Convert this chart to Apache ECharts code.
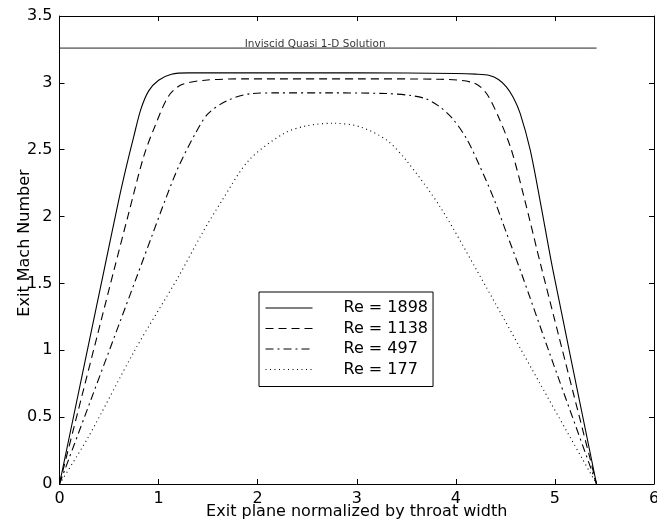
<!DOCTYPE html>
<html><head><meta charset="utf-8">
<script src="https://cdn.jsdelivr.net/npm/echarts@6/dist/echarts.min.js"></script>
<style>html,body{margin:0;padding:0;background:#fff}#c{width:657px;height:527px}</style>
</head><body><div id="c"></div>
<script>
// ---- data ----
var xTicks = [0, 1, 2, 3, 4, 5, 6];
var yTicks = [0, 0.5, 1, 1.5, 2, 2.5, 3, 3.5];

var re1898X = [0, 0.45, 0.60, 0.68, 0.75, 0.82, 0.90, 1.0, 1.13, 1.3, 2.0, 3.0, 4.0, 4.2, 4.34, 4.43, 4.51, 4.58, 4.65, 4.75, 4.85, 4.98, 5.42];
var re1898Y = [0, 1.60, 2.13, 2.39, 2.60, 2.80, 2.94, 3.02, 3.065, 3.075, 3.075, 3.075, 3.07, 3.065, 3.055, 3.025, 2.97, 2.89, 2.77, 2.50, 2.12, 1.60, 0];

var re1138X = [0, 0.55, 0.70, 0.85, 0.96, 1.10, 1.23, 1.47, 1.9, 3.0, 3.84, 4.18, 4.31, 4.445, 4.56, 4.68, 4.87, 5.42];
var re1138Y = [0, 1.60, 2.03, 2.45, 2.67, 2.90, 2.985, 3.02, 3.03, 3.03, 3.027, 3.0, 2.92, 2.72, 2.50, 2.17, 1.60, 0];

var re497X = [0, 0.78, 0.93, 1.065, 1.20, 1.37, 1.50, 1.70, 1.94, 2.2, 2.72, 3.3, 3.55, 3.70, 3.84, 3.97, 4.11, 4.24, 4.38, 4.51, 4.65, 4.95, 5.42];
var re497Y = [0, 1.55, 1.85, 2.12, 2.37, 2.62, 2.77, 2.87, 2.92, 2.925, 2.925, 2.92, 2.905, 2.88, 2.82, 2.73, 2.58, 2.38, 2.14, 1.88, 1.60, 0.97, 0];

var re177X = [0, 0.29, 0.76, 1.2, 1.44, 1.64, 1.91, 2.26, 2.49, 2.76, 3.03, 3.30, 3.50, 3.84, 4.21, 4.85, 5.42];
var re177Y = [0, 0.35, 1.0, 1.55, 1.875, 2.12, 2.42, 2.62, 2.678, 2.698, 2.672, 2.573, 2.42, 2.074, 1.60, 0.75, 0];

var invX = [0, 5.42];
var invY = [3.26, 3.26];
var invLabelX = 2.58;
var invLabel = 'Inviscid Quasi 1-D Solution';

var seriesNames = ['Re = 1898', 'Re = 1138', 'Re = 497', 'Re = 177'];
var xName = 'Exit plane normalized by throat width';
var yName = 'Exit Mach Number';

function pairs(xs, ys) { return xs.map(function (x, i) { return [x, ys[i]]; }); }

var FONT = '"DejaVu Sans", Verdana, sans-serif';
var FS = 16;
var chart = echarts.init(document.getElementById('c'));

function axisCommon(extra) {
  var base = {
    type: 'value',
    axisLine: { show: true, onZero: false, lineStyle: { color: '#000', width: 1 } },
    axisTick: { show: true, inside: true, length: 5, lineStyle: { color: '#000', width: 1 } },
    splitLine: { show: false },
    axisLabel: { color: '#000', fontSize: FS, fontFamily: FONT }
  };
  for (var k in extra) base[k] = extra[k];
  return base;
}

function mkLine(name, data, type) {
  return {
    name: name, type: 'line', data: data, symbol: 'none', smooth: 0.3,
    lineStyle: { color: '#000', width: 1.1, type: type },
    itemStyle: { color: '#000' },
    z: 3
  };
}

chart.setOption({
  animation: false,
  backgroundColor: '#fff',
  textStyle: { fontFamily: FONT },
  grid: { left: 59.5, right: 3, top: 16, bottom: 43, containLabel: false, outerBoundsMode: 'none' },
  xAxis: [
    axisCommon({ position: 'bottom', min: 0, max: 6, interval: 1,
      axisLabel: { color: '#000', fontSize: FS, fontFamily: FONT, margin: 7 },
      name: xName, nameLocation: 'middle', nameGap: 20, nameMoveOverlap: false,
      nameTextStyle: { color: '#000', fontSize: FS, fontFamily: FONT } }),
    axisCommon({ position: 'top', min: 0, max: 6, interval: 1, axisLabel: { show: false } })
  ],
  yAxis: [
    axisCommon({ position: 'left', min: 0, max: 3.5, interval: 0.5,
      axisLabel: { color: '#000', fontSize: FS, fontFamily: FONT, margin: 7 },
      name: yName, nameLocation: 'middle', nameGap: 27, nameMoveOverlap: false,
      nameTextStyle: { color: '#000', fontSize: FS, fontFamily: FONT, padding: [0, 0, 0, 14] } }),
    axisCommon({ position: 'right', min: 0, max: 3.5, interval: 0.5, axisLabel: { show: false } })
  ],
  legend: {
    data: seriesNames,
    orient: 'vertical',
    left: 259, top: 292,
    padding: [7, 5, 8, 6],
    itemGap: 2.5,
    itemWidth: 47, itemHeight: 14,
    backgroundColor: '#fff',
    borderColor: '#000', borderWidth: 1, borderRadius: 0,
    itemStyle: { opacity: 0 },
    lineStyle: { width: 1 },
    textStyle: { color: '#000', fontSize: FS, fontFamily: FONT, lineHeight: 18, padding: [0, 0, 0, 26] }
  },
  series: [
    mkLine(seriesNames[0], pairs(re1898X, re1898Y), 'solid'),
    mkLine(seriesNames[1], pairs(re1138X, re1138Y), [8, 5]),
    mkLine(seriesNames[2], pairs(re497X, re497Y), [8, 4, 2, 4]),
    mkLine(seriesNames[3], pairs(re177X, re177Y), [1, 3.5]),
    {
      name: 'inviscid', type: 'line', data: pairs(invX, invY), symbol: 'none',
      lineStyle: { color: '#222', width: 1 }, z: 3
    },
    {
      name: 'invLabel', type: 'scatter', data: [[invLabelX, invY[0]]], symbolSize: 0,
      label: { show: true, position: 'top', distance: 0, offset: [0, 2], formatter: invLabel,
        color: '#000', fontSize: 10.5, fontFamily: FONT },
      silent: true, z: 4
    }
  ]
});
</script>
</body></html>
